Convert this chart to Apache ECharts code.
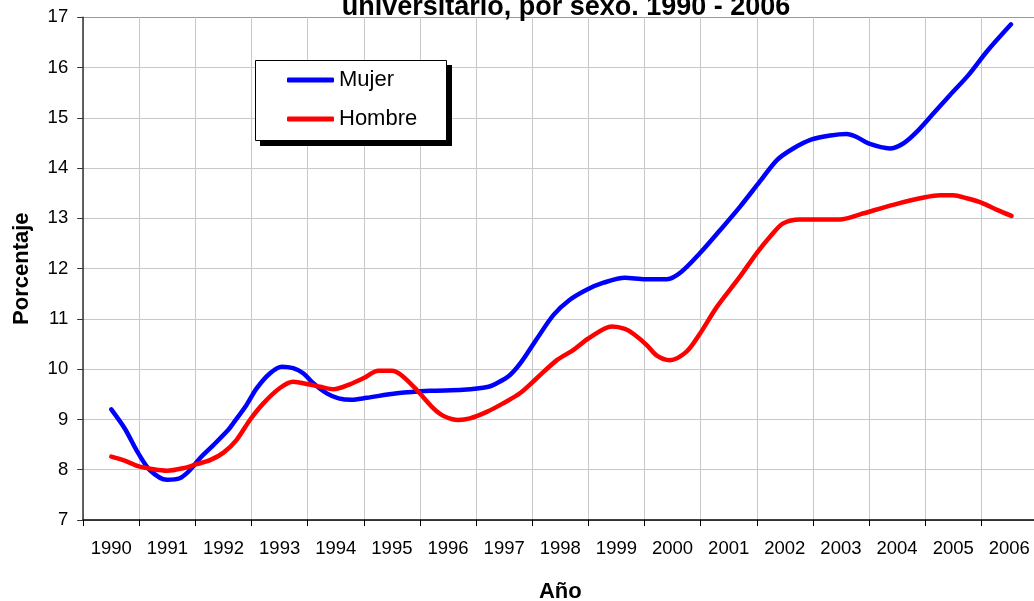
<!DOCTYPE html>
<html>
<head>
<meta charset="utf-8">
<title>Porcentaje universitario por sexo 1990 - 2006</title>
<script src="https://cdn.jsdelivr.net/npm/echarts@6.0.0/dist/echarts.min.js"></script>
<style>
  html, body { margin: 0; padding: 0; background: #fff; }
  #chart { width: 1034px; height: 601px; }
</style>
</head>
<body>
<div id="chart"></div>
<script>
// categorias del eje X
const years = ['1990', '1991', '1992', '1993', '1994', '1995', '1996', '1997', '1998',
  '1999', '2000', '2001', '2002', '2003', '2004', '2005', '2006']

// Mujer: posicion en el tiempo (año) y porcentaje
const mujerX = [1990.00, 1990.24, 1990.48, 1990.69, 1990.99, 1991.22, 1991.40, 1991.58, 1991.82,
  1992.09, 1992.17, 1992.41, 1992.59, 1992.83, 1993.04, 1993.24, 1993.42, 1993.60, 1993.84,
  1994.05, 1994.28, 1994.55, 1995.09, 1995.68, 1996.27, 1996.72, 1996.87, 1997.10, 1997.31,
  1997.58, 1997.88, 1998.17, 1998.47, 1998.77, 1999.15, 1999.51, 1999.90, 2000.16, 2000.49,
  2000.85, 2001.20, 2001.56, 2001.86, 2002.15, 2002.48, 2002.81, 2003.10, 2003.28, 2003.49,
  2003.87, 2004.11, 2004.35, 2004.65, 2004.94, 2005.27, 2005.60, 2006.03]
const mujerY = [9.20, 8.82, 8.33, 7.99, 7.80, 7.83, 7.99, 8.23, 8.49,
  8.80, 8.92, 9.29, 9.62, 9.92, 10.05, 10.02, 9.92, 9.72, 9.52,
  9.42, 9.39, 9.43, 9.52, 9.57, 9.59, 9.65, 9.72, 9.88, 10.15,
  10.60, 11.08, 11.38, 11.58, 11.72, 11.82, 11.79, 11.79, 11.94, 12.31,
  12.77, 13.23, 13.74, 14.16, 14.39, 14.57, 14.65, 14.68, 14.62, 14.49,
  14.39, 14.49, 14.72, 15.09, 15.45, 15.85, 16.32, 16.86]

// Hombre
const hombreX = [1990.00, 1990.24, 1990.48, 1990.75, 1990.99, 1991.28, 1991.52, 1991.76, 1992.00,
  1992.23, 1992.47, 1992.71, 1993.01, 1993.24, 1993.51, 1993.72, 1993.96, 1994.25, 1994.49,
  1994.76, 1995.00, 1995.17, 1995.44, 1995.74, 1995.92, 1996.18, 1996.39, 1996.69, 1996.98,
  1997.28, 1997.58, 1997.94, 1998.23, 1998.50, 1998.92, 1999.15, 1999.33, 1999.54, 1999.72,
  1999.95, 2000.25, 2000.49, 2000.79, 2001.20, 2001.50, 2001.74, 2001.97, 2002.27, 2002.98,
  2003.34, 2003.93, 2004.50, 2004.77, 2005.00, 2005.24, 2005.51, 2005.78, 2006.04]
const hombreY = [8.26, 8.18, 8.07, 8.01, 7.98, 8.03, 8.11, 8.19, 8.34,
  8.59, 8.99, 9.32, 9.63, 9.75, 9.70, 9.65, 9.60, 9.70, 9.82,
  9.97, 9.97, 9.88, 9.59, 9.22, 9.07, 8.99, 9.02, 9.15, 9.32,
  9.52, 9.82, 10.18, 10.38, 10.61, 10.85, 10.80, 10.68, 10.48, 10.27,
  10.18, 10.35, 10.71, 11.24, 11.84, 12.31, 12.64, 12.90, 12.98, 12.98,
  13.08, 13.27, 13.42, 13.46, 13.46, 13.40, 13.31, 13.17, 13.05]

const font = '"Liberation Sans", Arial, sans-serif'
const gridColor = '#c8c8c8'
// la linea de 17 (borde superior) es algo mas oscura
const ySplitColors = [gridColor, gridColor, gridColor, gridColor, gridColor, gridColor,
  gridColor, gridColor, gridColor, gridColor, '#9a9a9a']

const pairs = (xs, ys) => xs.map((x, i) => [x, ys[i]])

const chart = echarts.init(document.getElementById('chart'), null, { renderer: 'canvas' })

chart.setOption({
  animation: false,
  backgroundColor: '#fff',
  graphic: [{
    type: 'text',
    x: 566,
    y: 21,
    z: 5,
    style: {
      text: 'universitario, por sexo. 1990 - 2006',
      font: 'bold 27px ' + font,
      fill: '#000',
      align: 'center',
      textAlign: 'center',
      verticalAlign: 'bottom',
      textVerticalAlign: 'bottom'
    }
  }, {
    // sombra de la leyenda
    type: 'rect',
    z: 3,
    shape: { x: 260, y: 65, width: 192, height: 81 },
    style: { fill: '#000' }
  }, {
    type: 'rect',
    z: 3,
    shape: { x: 255.5, y: 60.5, width: 191, height: 80 },
    style: { fill: '#fff', stroke: '#000', lineWidth: 1 }
  }],
  legend: {
    orient: 'vertical',
    left: 255,
    top: 61,
    z: 4,
    padding: [8, 30, 12, 32],
    itemGap: 17,
    itemWidth: 47,
    itemHeight: 5,
    icon: 'roundRect',
    textStyle: { fontFamily: font, fontSize: 22, lineHeight: 22, color: '#000' },
    data: ['Mujer', 'Hombre']
  },
  grid: {
    left: 83.2,
    top: 17.3,
    right: -3.4,
    bottom: 81,
    containLabel: false,
    outerBoundsMode: 'none'
  },
  xAxis: [{
    type: 'category',
    data: years,
    boundaryGap: true,
    name: 'Año',
    nameLocation: 'middle',
    nameGap: 61,
    nameTextStyle: { fontFamily: font, fontSize: 22, fontWeight: 'bold', color: '#000', lineHeight: 22 },
    axisLine: { show: true, lineStyle: { color: '#000', width: 1.5 } },
    axisTick: { show: true, length: 6, lineStyle: { color: '#000' } },
    axisLabel: { interval: 0, margin: 20, fontFamily: font, fontSize: 18.5, lineHeight: 18.5, color: '#000' },
    splitLine: { show: true, lineStyle: { color: gridColor, width: 1 } }
  }, {
    // eje oculto para ubicar los puntos dentro de cada año
    type: 'value',
    min: 1989.5,
    max: 2006.5,
    show: false
  }],
  yAxis: {
    type: 'value',
    min: 7,
    max: 17,
    interval: 1,
    name: 'Porcentaje',
    nameLocation: 'middle',
    nameGap: 50,
    nameTextStyle: { fontFamily: font, fontSize: 22, fontWeight: 'bold', color: '#000', lineHeight: 22 },
    axisLine: { show: true, lineStyle: { color: '#333', width: 1.5 } },
    axisTick: { show: true, length: 6, lineStyle: { color: '#333' } },
    axisLabel: { margin: 15, fontFamily: font, fontSize: 18.5, color: '#000' },
    splitLine: { show: true, lineStyle: { color: ySplitColors, width: 1 } }
  },
  series: [{
    name: 'Mujer',
    type: 'line',
    xAxisIndex: 1,
    data: pairs(mujerX, mujerY),
    symbol: 'none',
    smooth: 0.3,
    lineStyle: { color: '#0000ff', width: 4.5, cap: 'round', join: 'round' },
    itemStyle: { color: '#0000ff' }
  }, {
    name: 'Hombre',
    type: 'line',
    xAxisIndex: 1,
    data: pairs(hombreX, hombreY),
    symbol: 'none',
    smooth: 0.3,
    lineStyle: { color: '#ff0000', width: 4.5, cap: 'round', join: 'round' },
    itemStyle: { color: '#ff0000' }
  }]
})
</script>
</body>
</html>
